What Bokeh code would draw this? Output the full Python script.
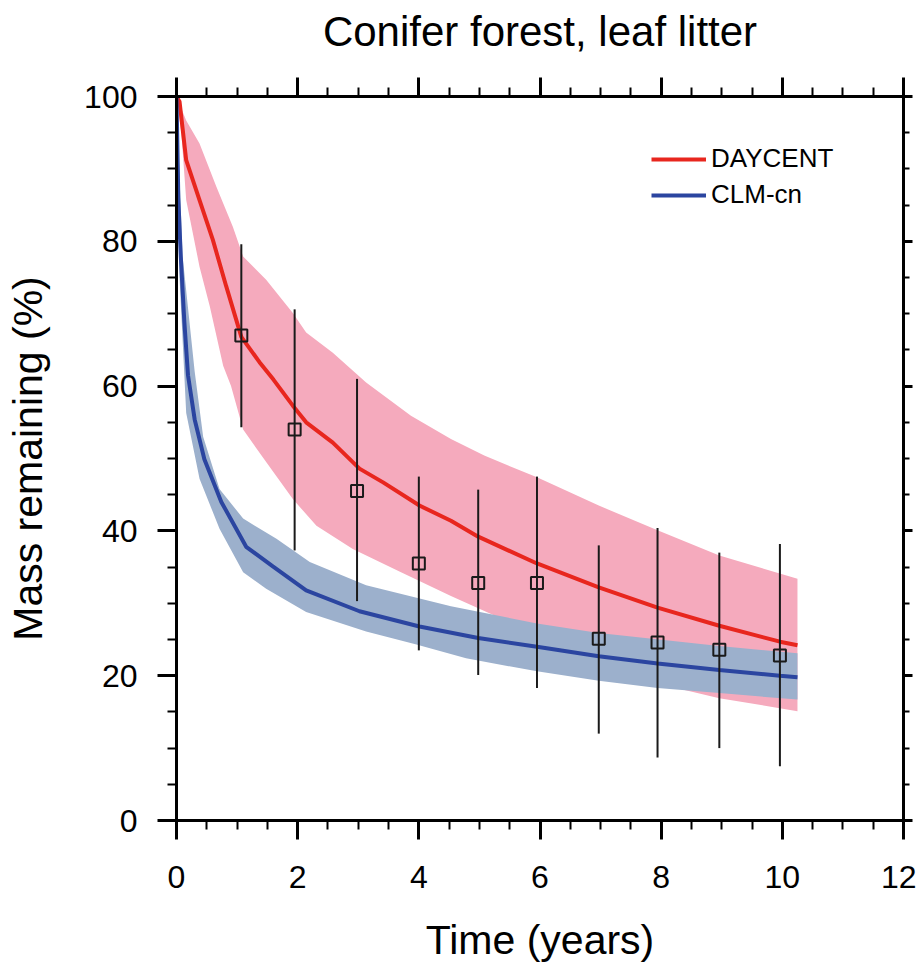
from bokeh.plotting import figure
from bokeh.models import LinearAxis, SingleIntervalTicker, Range1d, Legend, LegendItem
from bokeh.embed import file_html
from bokeh.resources import INLINE

# ---- data ----
# DAYCENT mean line
day_x = [0, 0.05, 0.16, 0.38, 0.6, 0.82, 1.07, 1.37, 1.6, 1.92, 2.14, 2.58, 3.02, 3.41,
         4.01, 4.53, 4.98, 5.95, 6.97, 7.94, 8.96, 9.96, 10.25]
day_y = [100, 99.3, 91.2, 85.7, 80.2, 73.8, 66.8, 63.3, 60.9, 57.3, 55.0, 52.2, 48.6, 46.7,
         43.5, 41.4, 39.2, 35.5, 32.2, 29.4, 26.9, 24.7, 24.2]
# DAYCENT band upper / lower
day_up_x = [0, 0.16, 0.38, 0.66, 0.93, 1.1, 1.48, 1.92, 2.14, 2.58, 3.13, 3.87, 4.53, 5.08,
            5.95, 6.97, 7.94, 8.96, 10.25]
day_up_y = [100, 96.7, 93.5, 87.5, 82.0, 77.9, 74.7, 70.1, 67.4, 64.6, 60.5, 55.9, 52.7, 50.4,
            47.4, 43.5, 40.1, 36.6, 33.4]
day_lo_x = [0, 0.08, 0.16, 0.38, 0.55, 0.77, 0.9, 1.1, 1.48, 1.92, 2.31, 2.91, 3.68, 4.53,
            6.0, 7.0, 8.3, 8.96, 10.25]
day_lo_y = [100, 95, 85.7, 76.5, 71.0, 62.8, 60.0, 54.0, 49.5, 44.4, 40.7, 37.5, 34.4, 31.0,
            25.5, 21.5, 18.2, 16.9, 15.1]

# CLM-cn mean line
clm_x = [0, 0.03, 0.07, 0.13, 0.19, 0.3, 0.46, 0.74, 1.15, 1.59, 2.14, 3.02, 4.01, 4.98,
         5.95, 6.97, 7.94, 8.96, 9.96, 10.25]
clm_y = [100, 86, 78, 68.8, 61.5, 55.4, 49.9, 44.0, 37.8, 35.1, 31.8, 28.9, 26.8, 25.2,
         24.0, 22.7, 21.7, 20.8, 20.0, 19.8]
# CLM-cn band upper / lower
clm_up_x = [0, 0.1, 0.3, 0.44, 0.71, 1.1, 1.65, 2.2, 3.13, 4.53, 5.95, 6.97, 8.96, 10.25]
clm_up_y = [100, 78, 62, 53, 45.8, 41.7, 38.9, 35.7, 32.5, 29.6, 27.2, 25.9, 24.1, 23.1]
clm_lo_x = [0, 0.05, 0.16, 0.38, 0.71, 1.1, 1.48, 2.14, 3.13, 3.96, 4.78, 5.95, 6.97, 7.94,
            8.96, 10.25]
clm_lo_y = [100, 75, 56.3, 47.2, 40.3, 34.3, 32.0, 28.8, 26.1, 24.3, 22.4, 20.6, 19.3, 18.3,
            17.6, 16.7]

# Observations
obs_x = [1.07, 1.95, 2.98, 4.0, 4.98, 5.95, 6.97, 7.94, 8.96, 9.96]
obs_y = [67.0, 54.0, 45.5, 35.5, 32.8, 32.8, 25.1, 24.6, 23.6, 22.8]
obs_hi = [79.6, 70.6, 61.0, 47.5, 45.7, 47.5, 38.0, 40.4, 37.0, 38.2]
obs_lo = [54.3, 37.3, 30.3, 23.5, 20.1, 18.3, 12.0, 8.7, 10.0, 7.5]

series_names = ["DAYCENT", "CLM-cn"]
title_text = "Conifer forest, leaf litter"

# ---- styles ----
FONT = "Liberation Sans"
RED = "#e8261e"
PINK = "#f5aabd"
BLUE = "#2b45a0"
LBLUE = "#9cb0cc"
DARK = "#1a1a1a"

p = figure(width=916, height=965, x_range=Range1d(0, 12), y_range=Range1d(0, 100),
           output_backend="svg", toolbar_location=None,
           min_border_left=176, min_border_top=96, min_border_right=13, min_border_bottom=142)
p.outline_line_color = None
p.xgrid.visible = False
p.ygrid.visible = False
p.background_fill_color = "white"
p.border_fill_color = "white"

# bands
p.patch(day_up_x + day_lo_x[::-1], day_up_y + day_lo_y[::-1], fill_color=PINK, line_color=None)
p.patch(clm_up_x + clm_lo_x[::-1], clm_up_y + clm_lo_y[::-1], fill_color=LBLUE, line_color=None)
# lines
r_day = p.line(day_x, day_y, line_color=RED, line_width=4)
r_clm = p.line(clm_x, clm_y, line_color=BLUE, line_width=4)
# observations
p.segment(x0=obs_x, y0=obs_lo, x1=obs_x, y1=obs_hi, line_color=DARK, line_width=2)
p.scatter(obs_x, obs_y, marker="square", size=12, line_color=DARK, line_width=2,
          fill_color=None)

# legend
legend = Legend(items=[LegendItem(label=series_names[0], renderers=[r_day]),
                       LegendItem(label=series_names[1], renderers=[r_clm])],
                location=(475, 610))
legend.border_line_color = None
legend.background_fill_alpha = 0
legend.label_text_font = FONT
legend.label_text_font_size = "26px"
legend.label_text_color = "black"
legend.glyph_width = 55
legend.glyph_height = 26
legend.label_height = 26
legend.spacing = 5
legend.padding = 10
legend.margin = 0
legend.label_standoff = 5
p.add_layout(legend)


def style_axis(ax, show_labels, tick_out=19, minor_out=9):
    ax.axis_line_width = 3
    ax.axis_line_color = "black"
    ax.major_tick_line_width = 3
    ax.minor_tick_line_width = 2
    ax.major_tick_line_color = "black"
    ax.minor_tick_line_color = "black"
    ax.major_tick_out = tick_out
    ax.major_tick_in = 0
    ax.minor_tick_out = minor_out
    ax.minor_tick_in = 0
    ax.major_label_text_font = FONT
    if show_labels:
        ax.major_label_text_font_size = "32px"
        ax.major_label_text_color = "black"
    else:
        ax.major_label_text_font_size = "1px"
        ax.major_label_text_color = None
        ax.major_label_standoff = 0
    ax.axis_label_text_font = FONT
    ax.axis_label_text_font_size = "41px"
    ax.axis_label_text_font_style = "normal"
    ax.axis_label_text_color = "black"


xb = p.xaxis[0]
xb.ticker = SingleIntervalTicker(interval=2, num_minor_ticks=4)
style_axis(xb, True)
xb.major_label_standoff = 26
xb.axis_label = "Time (years)"
xb.axis_label_standoff = 26

yl = p.yaxis[0]
yl.ticker = SingleIntervalTicker(interval=20, num_minor_ticks=4)
style_axis(yl, True)
yl.major_label_standoff = 20
yl.axis_label = "Mass remaining (%)"
yl.axis_label_standoff = 30

# top axis carries the chart title as its label
xt = LinearAxis(ticker=SingleIntervalTicker(interval=2, num_minor_ticks=4))
style_axis(xt, False)
xt.axis_label = title_text
xt.axis_label_text_font_size = "42px"
xt.axis_label_standoff = 23
p.add_layout(xt, "above")

yr = LinearAxis(ticker=SingleIntervalTicker(interval=20, num_minor_ticks=4))
style_axis(yr, False, tick_out=9, minor_out=6)
p.add_layout(yr, "right")

open("out.html", "w").write(file_html(p, INLINE))
